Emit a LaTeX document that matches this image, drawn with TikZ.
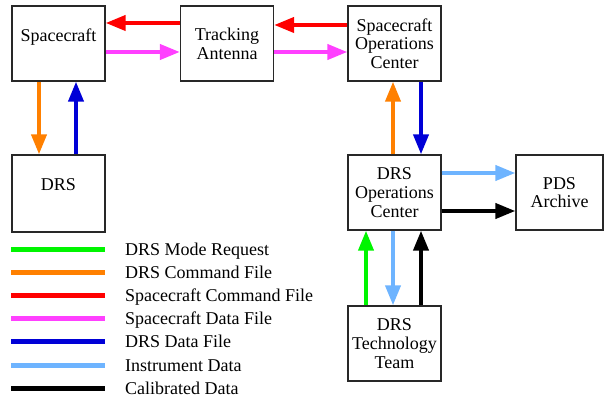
\documentclass[tikz,border=0pt]{standalone}
\usepackage{fontspec}
\setmainfont{Liberation Serif}
\newfontfamily\diagfont{Liberation Serif}
\usetikzlibrary{arrows.meta}

\definecolor{cgreen}{RGB}{0,245,0}
\definecolor{corange}{RGB}{255,128,0}
\definecolor{cred}{RGB}{255,0,0}
\definecolor{cmagenta}{RGB}{255,64,255}
\definecolor{cblue}{RGB}{0,0,215}
\definecolor{clight}{RGB}{110,180,255}
\definecolor{cblack}{RGB}{0,0,0}
\definecolor{boxline}{RGB}{40,40,40}

\newcommand{\labelfont}{\diagfont\fontsize{18}{18.7}\selectfont}

\tikzset{
  block/.style={draw=boxline, line width=1.3pt, fill=white, rectangle,
    minimum width=93pt, minimum height=75pt, inner sep=0pt,
    font=\labelfont},
  stacked/.style={align=center},
  oneline/.style={text depth=17pt},
  flow/.style={line width=4pt, -{Triangle[length=20pt,width=15pt]}},
  keyline/.style={line width=5pt},
  keytext/.style={anchor=base west, inner sep=0pt, font=\labelfont}
}

\begin{document}
\begin{tikzpicture}[x=1pt,y=-1pt]
\useasboundingbox (0,0) rectangle (605,398);

% blocks
\node[block, oneline] (sc)  at (58.5,43.5)  {Spacecraft};
\node[block, stacked] (ta)  at (227,43.5)   {Tracking\\Antenna};
\node[block, stacked] (soc) at (394.5,43.5) {Spacecraft\\Operations\\Center};
\node[block, oneline, minimum height=77pt] (drs) at (58.5,193.5) {DRS};
\node[block, stacked] (dop) at (394.5,192.5) {DRS\\Operations\\Center};
\node[block, stacked, minimum width=87pt] (pds) at (559.5,192.5) {PDS\\Archive};
\node[block, stacked] (dtt) at (394.5,343.5) {DRS\\Technology\\Team};

% top row links
\draw[flow, cred]     ([yshift=20.5pt]ta.west)  -- ([yshift=20.5pt]sc.east);
\draw[flow, cmagenta] ([yshift=-8.5pt]sc.east)  -- ([yshift=-8.5pt]ta.west);
\draw[flow, cred]     ([yshift=18.5pt]soc.west) -- ([yshift=18.5pt]ta.east);
\draw[flow, cmagenta] ([yshift=-8.5pt]ta.east)  -- ([yshift=-8.5pt]soc.west);

% spacecraft <-> DRS
\draw[flow, corange] ([xshift=-19.5pt]sc.south) -- ([xshift=-19.5pt]sc.south |- drs.north);
\draw[flow, cblue]   ([xshift=17.5pt]sc.south |- drs.north) -- ([xshift=17.5pt]sc.south);

% operations centers
\draw[flow, corange] ([xshift=-1.5pt]dop.north) -- ([xshift=-1.5pt]soc.south);
\draw[flow, cblue]   ([xshift=26.5pt]soc.south) -- ([xshift=26.5pt]dop.north);

% to the archive
\draw[flow, clight] ([yshift=19.5pt]dop.east)  -- ([yshift=19.5pt]dop.east -| pds.west);
\draw[flow, cblack] ([yshift=-18.5pt]dop.east) -- ([yshift=-18.5pt]dop.east -| pds.west);

% technology team
\draw[flow, cgreen] ([xshift=-28.5pt]dtt.north) -- ([xshift=-28.5pt]dop.south);
\draw[flow, clight] ([xshift=-1.5pt]dop.south)  -- ([xshift=-1.5pt]dtt.north);
\draw[flow, cblack] ([xshift=26.5pt]dtt.north)  -- ([xshift=26.5pt]dop.south);

% key
\foreach \c/\t [count=\i from 0] in {
  cgreen/DRS Mode Request,
  corange/DRS Command File,
  cred/Spacecraft Command File,
  cmagenta/Spacecraft Data File,
  cblue/DRS Data File,
  clight/Instrument Data,
  cblack/Calibrated Data} {
  \pgfmathsetmacro{\yy}{249+23.2*\i}
  \draw[keyline, \c] (11,\yy) -- (105,\yy);
  \node[keytext] (key\i) at (125,\yy+6) {\t};
}
\end{tikzpicture}
\end{document}
